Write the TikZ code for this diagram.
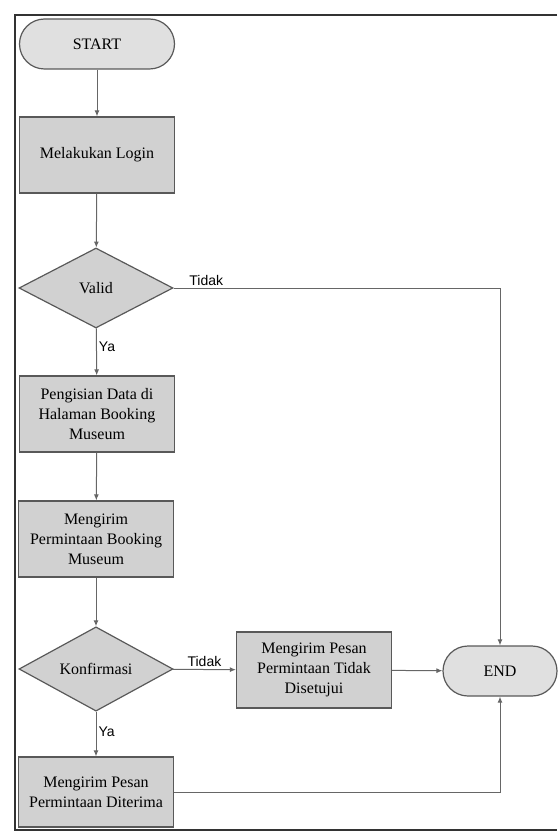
\documentclass[tikz,border=0pt]{standalone}
\usepackage{fontspec}
\setmainfont{Liberation Serif}
\newfontfamily\lblfont{Liberation Sans}
\usetikzlibrary{shapes.geometric,arrows.meta}

\begin{document}
\begin{tikzpicture}[x=0.5pt,y=-0.5pt,
	font=\fontsize{8}{10}\selectfont,
	terminal/.style={draw=black!65,fill=black!12,line width=0.6pt,rounded corners=12.5pt,minimum height=25pt},
	proc/.style={draw=black!65,fill=black!18,line width=0.6pt,minimum width=77.5pt,minimum height=38pt,align=center,inner sep=1pt},
	decision/.style={draw=black!65,fill=black!18,line width=0.6pt,diamond,minimum width=77pt,minimum height=40pt,inner sep=0pt},
	arrow/.style={draw=black!60,line width=0.5pt,-{Latex[length=3pt,width=2.5pt]}},
	lbl/.style={font=\lblfont\fontsize{7}{8}\selectfont,inner sep=1pt}]
\useasboundingbox (0,0) rectangle (557,834);
% frame
\draw[black!80,line width=1pt] (557,15) -- (15,15) -- (15,830) -- (557,830);

\node[terminal,minimum width=77.5pt] (start) at (97,44) {START};
\node[proc] (login) at (97,155) {Melakukan Login};
\node[decision] (valid) at (96,288) {Valid};
\node[proc] (isi) at (97,414) {Pengisian Data di\\Halaman Booking\\Museum};
\node[proc] (kirim) at (96,539) {Mengirim\\Permintaan Booking\\Museum};
\node[decision] (konf) at (96,669) {Konfirmasi};
\node[proc] (tolak) at (314,670) {Mengirim Pesan\\Permintaan Tidak\\Disetujui};
\node[terminal,minimum width=57pt] (end) at (500,671) {END};
\node[proc,minimum height=35pt] (terima) at (96,792) {Mengirim Pesan\\Permintaan Diterima};

\draw[arrow] (start) -- (login);
\draw[arrow] (login) -- (valid);
\draw[arrow] (valid) -- node[lbl,right,pos=0.4] {Ya} (isi);
\draw[arrow] (valid.east) -| node[lbl,above,pos=0.05] {Tidak} (end.north);
\draw[arrow] (isi) -- (kirim);
\draw[arrow] (kirim) -- (konf);
\draw[arrow] (konf) -- node[lbl,above] {Tidak} (tolak);
\draw[arrow] (konf) -- node[lbl,right,pos=0.45] {Ya} (terima);
\draw[arrow] (tolak) -- (end);
\draw[arrow] (terima.east) -| (end.south);

\end{tikzpicture}
\end{document}
